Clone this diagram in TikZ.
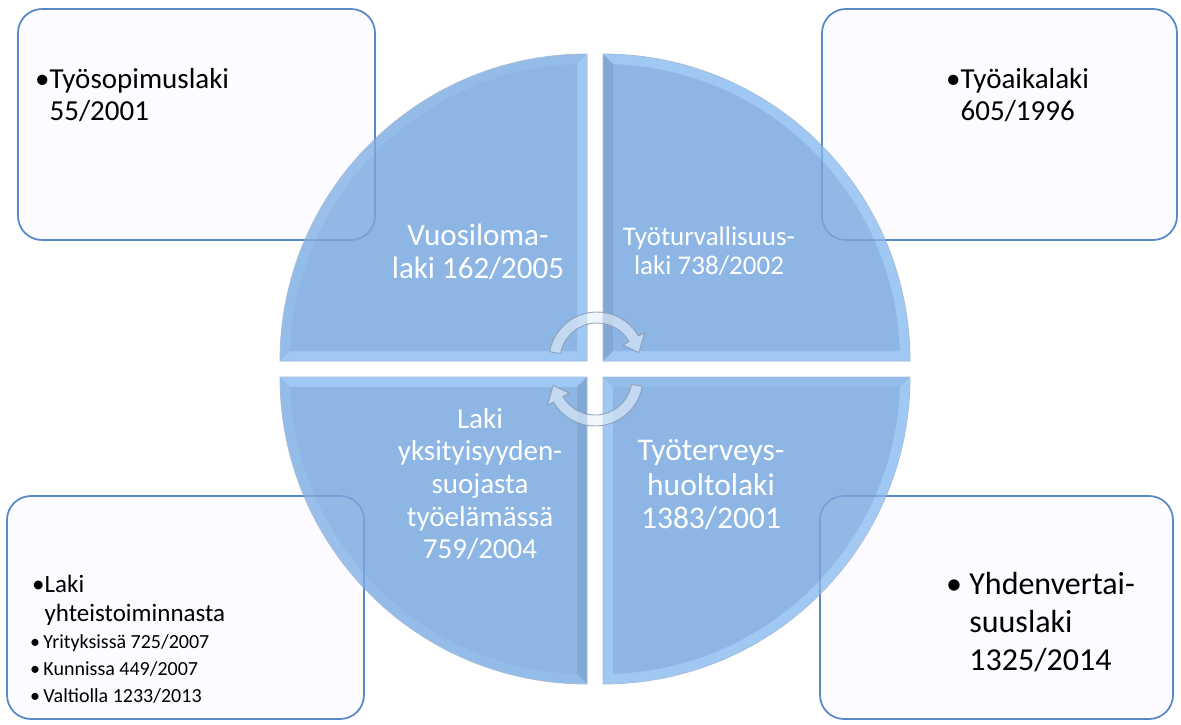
\documentclass[tikz,border=0pt]{standalone}
\usepackage{fontspec}
\setmainfont{Carlito}

\definecolor{boxline}{HTML}{5586C6}
\definecolor{boxfill}{HTML}{FCFBFF}
\definecolor{quadbase}{HTML}{8DB6E5}
\definecolor{bevlight}{HTML}{9FC8F3}
\definecolor{bevmid}{HTML}{94BCE9}
\definecolor{bevdark}{HTML}{83A8D5}
\definecolor{quadedge}{HTML}{A5BDD8}
\definecolor{arrline}{HTML}{8A9CB5}
\definecolor{arrfill}{HTML}{E8F0FA}

% quadrant geometry: outer radius, inner (bevel) radius, inset corner distance, bevel angle
\newcommand\qR{307pt}
\newcommand\qRi{297pt}
\newcommand\qD{14.14pt}
\newcommand\qA{1.93}

% #1,#2 corner, #3 start angle, #4 arc bevel, #5 bevel along start edge, #6 bevel along end edge
\newcommand\quadpiece[6]{%
  \begin{scope}[shift={(#1,#2)}]
    \fill[#4] (0,0) -- (#3:\qR) arc[start angle=#3, delta angle=90, radius=\qR] -- cycle;
    \fill[#5] (0,0) -- (#3:\qR) -- (#3+\qA:\qRi) -- (#3+45:\qD) -- cycle;
    \fill[#6] (0,0) -- (#3+90:\qR) -- (#3+90-\qA:\qRi) -- (#3+45:\qD) -- cycle;
    \fill[quadbase] (#3+45:\qD) -- (#3+\qA:\qRi)
      arc[start angle=#3+\qA, end angle=#3+90-\qA, radius=\qRi] -- cycle;
    \draw[quadedge, line width=0.8pt] (0,0) -- (#3:\qR)
      arc[start angle=#3, delta angle=90, radius=\qR] -- cycle;
  \end{scope}}

% curved cycle arrow around a centre, turned by #3
\newcommand\cyclearrow[3]{%
  \begin{scope}[shift={(#1,#2)}, rotate=#3]
    \path[cyclearr] (170:48pt) arc[start angle=170, end angle=30, radius=48pt]
      -- (30:55pt) -- (10:42.5pt) -- (30:30pt) -- (30:37pt)
      arc[start angle=30, end angle=170, radius=37pt] -- cycle;
  \end{scope}}

\newcommand\fsBox{\fontsize{29pt}{33pt}\selectfont}
\newcommand\fsBoxMid{\fontsize{25pt}{29pt}\selectfont}
\newcommand\fsBoxSmall{\fontsize{20pt}{24pt}\selectfont}
\newcommand\fsBoxBig{\fontsize{32pt}{38pt}\selectfont}
\newcommand\fsQa{\fontsize{31pt}{34pt}\selectfont}
\newcommand\fsQb{\fontsize{27pt}{30pt}\selectfont}
\newcommand\fsQc{\fontsize{29pt}{32pt}\selectfont}
\newcommand\fsQd{\fontsize{31.5pt}{34pt}\selectfont}

\tikzset{
  lawbox/.style={rectangle, rounded corners=24pt, draw=boxline, line width=1.6pt,
    fill=boxfill, inner sep=0pt, outer sep=0pt},
  boxover/.style={rounded corners=24pt, draw=boxline, draw opacity=0.45,
    line width=1.6pt, fill=white, fill opacity=0.05},
  cyclearr/.style={fill=arrfill, fill opacity=0.6, draw=arrline, draw opacity=0.9,
    line width=0.9pt, line join=round},
  boxtxt/.style={text=black, inner sep=0pt, anchor=base west},
  quadtxt/.style={text=white, inner sep=0pt, anchor=base},
}

\begin{document}
\begin{tikzpicture}[x=1pt, y=1pt]
  \useasboundingbox (0,0) rectangle (1181,-724);
  \fill[white] (0,0) rectangle (1181,-724);

  % corner boxes
  \node[lawbox, minimum width=357pt, minimum height=231pt] (boxTL) at (196.5,-124.5) {};
  \node[lawbox, minimum width=355pt, minimum height=231pt] (boxTR) at (999.5,-124.5) {};
  \node[lawbox, minimum width=357pt, minimum height=223pt] (boxBL) at (185.5,-607.5) {};
  \node[lawbox, minimum width=353pt, minimum height=223pt] (boxBR) at (996.5,-607.5) {};

  % central matrix of four quadrants
  \quadpiece{587}{-361}{90}{bevmid}{bevlight}{bevlight}
  \quadpiece{603}{-361}{0}{bevlight}{bevlight}{bevdark}
  \quadpiece{587}{-377}{180}{bevmid}{bevlight}{bevdark}
  \quadpiece{603}{-377}{270}{bevlight}{bevlight}{bevmid}

  % box outlines showing through the circle
  \path[boxover] (boxTL.south west) rectangle (boxTL.north east);
  \path[boxover] (boxTR.south west) rectangle (boxTR.north east);
  \path[boxover] (boxBL.south west) rectangle (boxBL.north east);
  \path[boxover] (boxBR.south west) rectangle (boxBR.north east);

  % cycle arrows in the middle
  \cyclearrow{597}{-360}{0}
  \cyclearrow{595}{-378}{180}

  % quadrant labels
  \node[quadtxt, font=\fsQa] (q1a) at (478,-245) {Vuosiloma-};
  \node[quadtxt, font=\fsQa] (q1b) at (478,-278) {laki 162/2005};
  \node[quadtxt, font=\fsQb] (q2a) at (709,-245) {Työturvallisuus-};
  \node[quadtxt, font=\fsQb] (q2b) at (709,-274) {laki 738/2002};
  \node[quadtxt, font=\fsQc] (q3a) at (480,-428) {Laki};
  \node[quadtxt, font=\fsQc] (q3b) at (480,-460) {yksityisyyden-};
  \node[quadtxt, font=\fsQc] (q3c) at (480,-493) {suojasta};
  \node[quadtxt, font=\fsQc] (q3d) at (480,-526) {työelämässä};
  \node[quadtxt, font=\fsQc] (q3e) at (480,-558) {759/2004};
  \node[quadtxt, font=\fsQd] (q4a) at (711,-460) {Työterveys-};
  \node[quadtxt, font=\fsQd] (q4b) at (711,-495) {huoltolaki};
  \node[quadtxt, font=\fsQd] (q4c) at (711,-528) {1383/2001};

  % box texts
  \node[boxtxt, font=\fsBox] (tl1) at (35,-88) {•Työsopimuslaki};
  \node[boxtxt, font=\fsBox] (tl2) at (35,-120) {\hphantom{•}55/2001};

  \node[boxtxt, font=\fsBox] (tr1) at (946,-88) {•Työaikalaki};
  \node[boxtxt, font=\fsBox] (tr2) at (946,-120) {\hphantom{•}605/1996};

  \node[boxtxt, font=\fsBoxMid] (bl1) at (32,-592) {•Laki};
  \node[boxtxt, font=\fsBoxMid] (bl2) at (32,-621) {\hphantom{•}yhteistoiminnasta};
  \node[boxtxt, font=\fsBoxSmall] (bl3) at (30,-648) {•\,Yrityksissä 725/2007};
  \node[boxtxt, font=\fsBoxSmall] (bl4) at (30,-675) {•\,Kunnissa 449/2007};
  \node[boxtxt, font=\fsBoxSmall] (bl5) at (30,-702) {•\,Valtiolla 1233/2013};

  \node[boxtxt, font=\fsBoxBig] (br1) at (946,-594) {• Yhdenvertai-};
  \node[boxtxt, font=\fsBoxBig] (br2) at (946,-632) {\hphantom{• }suuslaki};
  \node[boxtxt, font=\fsBoxBig] (br3) at (946,-670) {\hphantom{• }1325/2014};
\end{tikzpicture}
\end{document}
